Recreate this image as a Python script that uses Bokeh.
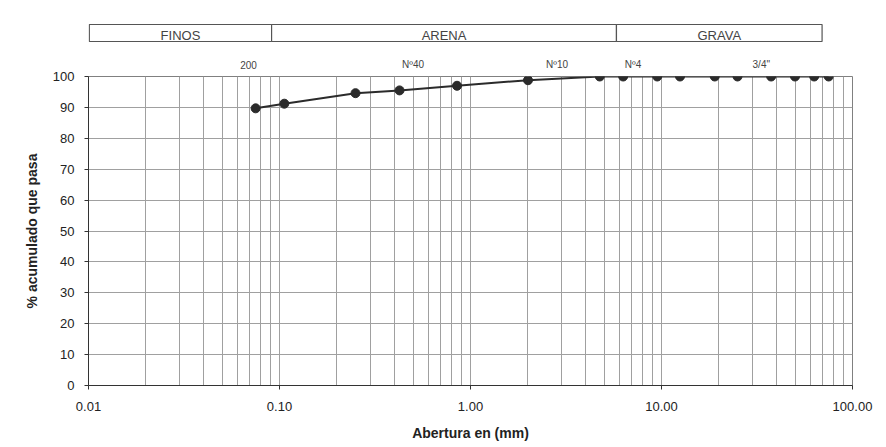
from bokeh.plotting import figure
from bokeh.models import Range1d, FixedTicker
from bokeh.layouts import column
from bokeh.embed import file_html
from bokeh.resources import INLINE
from bokeh.core.properties import value
import math

# ---- data ----
sieve_mm = [75, 63, 50, 37.5, 25, 19, 12.5, 9.5, 6.3, 4.75, 2.0, 0.85, 0.425, 0.25, 0.106, 0.075]
pct_passing = [100, 100, 100, 100, 100, 100, 100, 100, 100, 100, 98.8, 97.0, 95.5, 94.6, 91.2, 89.7]

y_ticks = [0, 10, 20, 30, 40, 50, 60, 70, 80, 90, 100]
x_ticks = [0.01, 0.1, 1, 10, 100]
x_tick_labels = ["0.01", "0.10", "1.00", "10.00", "100.00"]
x_minor = [m * d for d in [0.01, 0.1, 1, 10] for m in range(2, 10)]

zone_edges_mm = [0.0101, 0.0909, 5.81, 69.3]
zone_names = ["FINOS", "ARENA", "GRAVA"]

sieve_labels = ["200", "Nº40", "Nº10", "Nº4", "3/4\""]
sieve_label_mm = [0.0688, 0.50, 2.84, 7.1, 33.3]

FONT = "Liberation Sans"
W = 878
LEFT, RIGHT = 88, 26
HEAD = 69

xr = Range1d(0.01, 100)

# ---- header (soil zones and sieve names) ----
h = figure(width=W, height=HEAD, x_axis_type="log", x_range=xr, y_range=Range1d(HEAD, 0),
           x_axis_location=None, y_axis_location=None,
           min_border_left=LEFT, min_border_right=RIGHT, min_border_top=0, min_border_bottom=0,
           output_backend="svg", toolbar_location=None)
for g in h.grid:
    g.visible = False
h.outline_line_color = None

h.quad(left=zone_edges_mm[:-1], right=zone_edges_mm[1:], top=24, bottom=41,
       fill_color="white", line_color="#555555", line_width=1.2)
zone_centers = [math.sqrt(a * b) for a, b in zip(zone_edges_mm[:-1], zone_edges_mm[1:])]
h.text(x=zone_centers, y=[35] * 3, text=zone_names, text_font=value(FONT),
       text_font_size="13px", text_align="center", text_baseline="middle", text_color="#444444")
h.text(x=sieve_label_mm, y=[64] * len(sieve_labels), text=sieve_labels, text_font=value(FONT),
       text_font_size="10px", text_align="center", text_baseline="middle", text_color="#444444")

# ---- main chart ----
p = figure(width=W, height=445 - HEAD, x_axis_type="log", x_range=xr, y_range=Range1d(0, 100),
           min_border_left=LEFT, min_border_right=RIGHT, min_border_top=76 - HEAD, min_border_bottom=60,
           output_backend="svg", toolbar_location=None)

p.xaxis.ticker = FixedTicker(ticks=x_ticks, minor_ticks=x_minor)
p.xaxis.major_label_overrides = {t: l for t, l in zip(x_ticks, x_tick_labels)}
p.yaxis.ticker = FixedTicker(ticks=y_ticks)

for ax in (p.xaxis, p.yaxis):
    ax.axis_line_color = "#333333"
    ax.major_tick_line_color = "#333333"
    ax.major_tick_out = 4
    ax.major_tick_in = 0
    ax.minor_tick_line_color = None
    ax.major_label_text_font = FONT
    ax.major_label_text_font_size = "13px"
    ax.major_label_text_color = "#222222"
    ax.axis_label_text_font = FONT
    ax.axis_label_text_font_size = "14px"
    ax.axis_label_text_font_style = "bold"
    ax.axis_label_text_color = "#222222"

p.xaxis.axis_label = "Abertura en (mm)"
p.yaxis.axis_label = "% acumulado que pasa"
p.xaxis.major_label_standoff = 12
p.xaxis.axis_label_standoff = 11
p.yaxis.major_label_standoff = 10
p.yaxis.axis_label_standoff = 10

p.xgrid.grid_line_color = "#a0a0a0"
p.xgrid.minor_grid_line_color = "#a0a0a0"
p.ygrid.grid_line_color = "#a0a0a0"
p.outline_line_color = "#808080"

p.line(sieve_mm, pct_passing, line_color="#2b2b2b", line_width=2)
p.scatter(sieve_mm, pct_passing, size=9, fill_color="#2b2b2b", line_color="#2b2b2b")

layout = column(h, p, spacing=0)
open("out.html", "w").write(file_html(layout, INLINE))
